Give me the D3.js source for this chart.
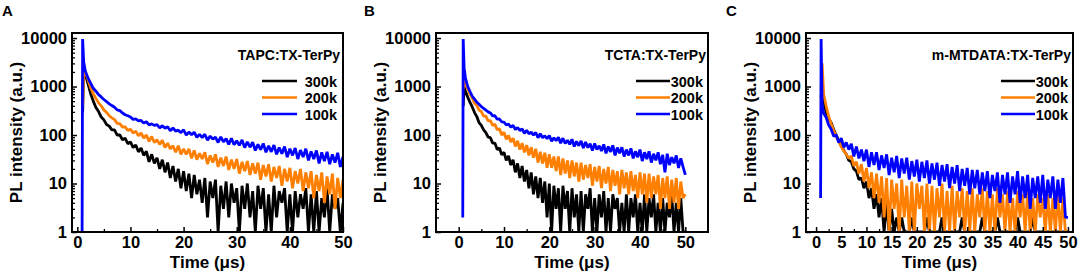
<!DOCTYPE html>
<html>
<head>
<meta charset="utf-8">
<script src="https://cdn.jsdelivr.net/npm/d3@7"></script>
<style>
  body { margin: 0; background: #fff; }
  svg text { font-family: "Liberation Sans", Arial, sans-serif; font-weight: bold; fill: #000; }
</style>
</head>
<body>
<svg id="drawing_region"></svg>
<script>
// sampling times (µs), shared by all traces
const timeUs = [0.9, 1, 1.2, 1.5,
  2, 2.5, 3, 3.5, 4, 4.5, 5, 5.5, 6, 6.5,
  7, 7.5, 8, 8.5, 9, 9.5, 10, 10.5, 11, 11.5,
  12, 12.5, 13, 13.5, 14, 14.5, 15, 15.5, 16, 16.5,
  17, 17.5, 18, 18.5, 19, 19.5, 20, 20.5, 21, 21.5,
  22, 22.5, 23, 23.5, 24, 24.5, 25, 25.5, 26, 26.5,
  27, 27.5, 28, 28.5, 29, 29.5, 30, 30.5, 31, 31.5,
  32, 32.5, 33, 33.5, 34, 34.5, 35, 35.5, 36, 36.5,
  37, 37.5, 38, 38.5, 39, 39.5, 40, 40.5, 41, 41.5,
  42, 42.5, 43, 43.5, 44, 44.5, 45, 45.5, 46, 46.5,
  47, 47.5, 48, 48.5, 49, 49.5, 50];

const seriesLabels = ['300k', '200k', '100k'];
const seriesColors = ['#000000', '#ff8000', '#0000ff'];
const yTickValues = [1, 10, 100, 1000, 10000];

// panel A  TAPC:TX-TerPy
const tapc300k = [300, 300, 2400, 1800,
  1150, 720, 500, 370, 305, 235, 205, 165, 152, 128,
  128, 100, 100, 80, 86, 66, 72, 55, 62, 45,
  54, 38, 46, 28, 40, 26, 34, 20, 31, 17,
  27, 13, 23, 11, 20, 8, 18, 7, 16, 5,
  15, 6, 12, 4, 13, 2, 11, 5, 12, 1,
  9, 3, 11, 2, 10, 4, 8, 0, 9, 3,
  10, 2, 7, 0, 9, 3, 8, 1, 6, 0,
  9, 2, 7, 4, 8, 0, 6, 1, 7, 2,
  6, 3, 8, 0, 6, 1, 7, 0, 5, 2,
  8, 1, 6, 3, 5, 1, 4];
const tapc200k = [400, 400, 2600, 2000,
  1400, 960, 710, 570, 460, 400, 330, 292, 250, 226,
  208, 174, 172, 146, 148, 124, 132, 110, 120, 96,
  110, 86, 100, 74, 93, 70, 80, 64, 78, 55,
  68, 52, 60, 44, 60, 40, 52, 40, 52, 33,
  48, 31, 42, 32, 44, 25, 38, 27, 40, 22,
  34, 23, 36, 19, 31, 20, 32, 16, 28, 18,
  29, 15, 26, 16, 27, 12, 24, 14, 25, 11,
  22, 13, 23, 9, 20, 11, 21, 8, 18, 10,
  20, 7, 17, 8, 18, 5, 15, 7, 17, 4,
  14, 6, 16, 3, 13, 5, 12];
const tapc100k = [1, 9500, 3200, 2100,
  1500, 1180, 920, 800, 680, 610, 540, 490, 440, 405,
  375, 330, 318, 285, 262, 250, 236, 210, 215, 196,
  200, 176, 188, 162, 170, 158, 163, 140, 156, 138,
  148, 122, 140, 120, 126, 112, 128, 100, 115, 101,
  114, 90, 103, 88, 104, 78, 95, 82, 90, 70,
  92, 72, 84, 64, 86, 63, 76, 61, 79, 55,
  72, 56, 71, 48, 64, 50, 67, 44, 60, 45,
  62, 40, 55, 41, 58, 35, 52, 38, 54, 32,
  49, 35, 52, 30, 46, 32, 48, 26, 44, 29,
  45, 25, 40, 27, 43, 22, 36];

// panel B  TCTA:TX-TerPy
const tcta300k = [400, 400, 1000, 800,
  600, 470, 380, 290, 240, 180, 158, 128, 112, 90,
  88, 68, 68, 50, 54, 39, 44, 30, 37, 24,
  31, 17, 26, 13, 23, 11, 19, 8, 17, 6,
  14, 5, 13, 4, 11, 2, 10, 0, 9, 3,
  8, 1, 9, 3, 7, 0, 8, 2, 6, 1,
  7, 0, 6, 3, 8, 1, 5, 0, 6, 2,
  7, 1, 5, 0, 6, 3, 5, 0, 4, 1,
  6, 0, 5, 2, 6, 0, 4, 1, 6, 0,
  5, 2, 6, 0, 4, 1, 5, 0, 4, 2,
  6, 0, 4, 1, 5, 0, 1];
const tcta200k = [900, 900, 1300, 1100,
  900, 690, 580, 450, 405, 325, 305, 245, 244, 196,
  198, 158, 166, 128, 134, 100, 114, 82, 98, 72,
  86, 58, 76, 50, 68, 44, 62, 38, 56, 34,
  52, 27, 45, 26, 43, 21, 40, 21, 36, 18,
  36, 15, 33, 16, 30, 13, 30, 14, 27, 11,
  27, 12, 24, 13, 25, 9, 22, 11, 23, 8,
  20, 10, 22, 7, 19, 9, 18, 6, 19, 8,
  17, 6, 18, 7, 15, 5, 17, 6, 16, 4,
  16, 5, 14, 6, 15, 3, 13, 5, 14, 3,
  12, 4, 13, 3, 11, 5, 6];
const tcta100k = [2, 9500, 2400, 1500,
  1000, 790, 630, 550, 475, 430, 385, 355, 325, 300,
  285, 248, 250, 212, 214, 186, 185, 162, 168, 146,
  158, 130, 142, 124, 133, 108, 125, 106, 114, 100,
  113, 88, 106, 88, 96, 84, 98, 74, 88, 76,
  90, 68, 86, 67, 78, 64, 82, 58, 74, 60,
  76, 54, 72, 55, 66, 48, 67, 50, 60, 47,
  64, 42, 58, 45, 61, 38, 55, 42, 56, 36,
  50, 38, 53, 33, 46, 35, 50, 29, 44, 32,
  46, 27, 41, 30, 44, 25, 39, 17, 41, 24,
  35, 26, 38, 21, 33, 22, 15];

// panel C  m-MTDATA:TX-TerPy
const mmtdata300k = [600, 600, 1200, 500,
  300, 220, 180, 130, 100, 76, 62, 48, 40, 30,
  28, 20, 18, 12, 13, 8, 11, 5, 8, 3,
  6, 2, 5, 1, 4, 0, 3, 1, 2, 0,
  2, 0, 1, 0, 2, 0, 1, 0, 1, 0,
  2, 0, 1, 0, 1, 0, 2, 0, 1, 0,
  1, 0, 1, 0, 2, 0, 1, 0, 1, 0,
  1, 0, 2, 0, 1, 0, 1, 0, 2, 0,
  1, 0, 1, 0, 1, 0, 2, 0, 1, 0,
  1, 0, 2, 0, 1, 0, 1, 0, 1, 0,
  1, 0, 1, 0, 1, 0, 1];
const mmtdata200k = [800, 800, 3000, 700,
  400, 245, 172, 122, 95, 74, 57, 47, 40, 33,
  37, 23, 28, 16, 25, 11, 21, 8, 17, 5,
  16, 4, 14, 2, 13, 1, 12, 3, 10, 0,
  12, 2, 9, 0, 11, 1, 10, 3, 9, 0,
  10, 1, 9, 0, 8, 2, 10, 0, 7, 1,
  9, 0, 7, 2, 8, 0, 7, 1, 8, 0,
  6, 2, 8, 0, 7, 1, 6, 0, 8, 2,
  6, 0, 7, 1, 5, 0, 7, 2, 6, 0,
  7, 1, 5, 0, 6, 2, 5, 0, 6, 1,
  5, 0, 6, 1, 5, 0, 1];
const mmtdata100k = [5, 9500, 420, 280,
  230, 160, 132, 94, 100, 70, 86, 56, 70, 50,
  66, 36, 58, 33, 50, 29, 50, 22, 44, 24,
  44, 19, 38, 21, 40, 15, 34, 17, 37, 13,
  33, 16, 34, 12, 29, 14, 31, 11, 28, 13,
  30, 10, 26, 12, 27, 9, 24, 11, 25, 8,
  22, 10, 24, 7, 20, 9, 21, 6, 19, 8,
  19, 6, 17, 7, 18, 5, 15, 7, 17, 4,
  15, 6, 17, 4, 14, 6, 18, 4, 14, 5,
  15, 3, 13, 5, 14, 4, 15, 3, 12, 5,
  14, 3, 12, 4, 13, 2, 2];

const svg = d3.select('#drawing_region')
    .attr('width', 1084)
    .attr('height', 276);

class DecayChart {

    constructor( config, series ) {
        this.config = config;
        this.series = series;
        this.init();
    }

    init() {
        let self = this;
        const c = self.config;

        self.xscale = d3.scaleLinear()
            .domain( c.xDomain )
            .range( [c.left, c.right] );

        self.yscale = d3.scaleLog()
            .domain( [1, 12700] )
            .range( [c.bottom, c.top] );

        self.chart = svg.append('g');

        self.chart.append('clipPath')
            .attr('id', c.id + '_clip')
            .append('rect')
            .attr('x', c.left).attr('y', c.top)
            .attr('width', c.right - c.left)
            .attr('height', c.bottom - c.top);
    }

    render() {
        let self = this;
        const c = self.config;

        const line = d3.line()
            .x( d => self.xscale(d[0]) )
            .y( d => self.yscale(Math.max(d[1], 1)) );

        self.chart.append('g')
            .attr('clip-path', `url(#${c.id}_clip)`)
            .selectAll('path')
            .data(self.series)
            .join('path')
            .attr('fill', 'none')
            .attr('stroke', (d, i) => seriesColors[i])
            .attr('stroke-width', 2.8)
            .attr('stroke-linejoin', 'bevel')
            .attr('d', d => line(timeUs.map((t, i) => [t, d[i]]).filter(p => p[1] !== undefined)));

        // y axis, major + minor ticks pointing inward
        const yminor = [];
        yTickValues.slice(0, -1).forEach( v => { for (let k = 2; k <= 9; k++) yminor.push(v * k); });

        self.chart.append('g')
            .attr('transform', `translate(${c.left},0)`)
            .call( d3.axisLeft(self.yscale).tickValues(yminor).tickSize(-3).tickFormat('') )
            .call( g => g.select('.domain').remove() )
            .selectAll('line').attr('stroke-width', 1.3);

        self.chart.append('g')
            .attr('transform', `translate(${c.left},0)`)
            .call( d3.axisLeft(self.yscale).tickValues(yTickValues).tickSize(-5).tickPadding(5).tickFormat(d3.format('d')) )
            .call( g => g.select('.domain').remove() )
            .call( g => g.selectAll('line').attr('stroke-width', 1.5) )
            .selectAll('text')
            .style('font-size', '16.5px');

        // x axis
        self.chart.append('g')
            .attr('transform', `translate(0,${c.bottom})`)
            .call( d3.axisBottom(self.xscale).tickValues(c.xMinor).tickSize(-3).tickFormat('') )
            .call( g => g.select('.domain').remove() )
            .selectAll('line').attr('stroke-width', 1.3);

        self.chart.append('g')
            .attr('transform', `translate(0,${c.bottom})`)
            .call( d3.axisBottom(self.xscale).tickValues(c.xTicks).tickSize(-5).tickPadding(4) )
            .call( g => g.select('.domain').remove() )
            .call( g => g.selectAll('line').attr('stroke-width', 1.5) )
            .selectAll('text')
            .style('font-size', '16.5px');

        // frame
        self.chart.append('rect')
            .attr('x', c.left).attr('y', c.top)
            .attr('width', c.right - c.left)
            .attr('height', c.bottom - c.top)
            .attr('fill', 'none')
            .attr('stroke', '#000')
            .attr('stroke-width', 2);

        // axis titles
        self.chart.append('text')
            .attr('x', (c.left + c.right) / 2)
            .attr('y', 268)
            .attr('text-anchor', 'middle')
            .style('font-size', '17px')
            .text('Time (μs)');

        self.chart.append('text')
            .attr('transform', `translate(${c.left - 50},${(c.top + c.bottom) / 2}) rotate(-90)`)
            .attr('text-anchor', 'middle')
            .style('font-size', '17px')
            .text('PL intensity (a.u.)');

        // panel letter
        self.chart.append('text')
            .attr('x', c.letterX)
            .attr('y', 16)
            .style('font-size', '15px')
            .text(c.letter);

        // legend
        const lg = self.chart.append('g');
        lg.append('text')
            .attr('x', c.legendRight + 3)
            .attr('y', 60)
            .attr('text-anchor', 'end')
            .style('font-size', '14px')
            .text(c.title);

        seriesLabels.forEach( (lab, i) => {
            const yy = 81 + i * 16.5;
            lg.append('line')
                .attr('x1', c.legendLine[0]).attr('x2', c.legendLine[1])
                .attr('y1', yy).attr('y2', yy)
                .attr('stroke', seriesColors[i])
                .attr('stroke-width', 2.5);
            lg.append('text')
                .attr('x', c.legendRight)
                .attr('y', yy + 5.5)
                .attr('text-anchor', 'end')
                .style('font-size', '14.5px')
                .text(lab);
        });
    }
}

const panels = [
    { id: 'A', letter: 'A', letterX: 2, title: 'TAPC:TX-TerPy',
      left: 72, right: 343, top: 33, bottom: 232, xDomain: [-1, 50],
      xTicks: [0, 10, 20, 30, 40, 50], xMinor: [5, 15, 25, 35, 45],
      legendRight: 337, legendLine: [262, 297],
      series: [tapc300k, tapc200k, tapc100k] },
    { id: 'B', letter: 'B', letterX: 364, title: 'TCTA:TX-TerPy',
      left: 436, right: 708, top: 33, bottom: 232, xDomain: [-5, 55],
      xTicks: [0, 10, 20, 30, 40, 50], xMinor: [5, 15, 25, 35, 45],
      legendRight: 703, legendLine: [636, 670],
      series: [tcta300k, tcta200k, tcta100k] },
    { id: 'C', letter: 'C', letterX: 726, title: 'm-MTDATA:TX-TerPy',
      left: 806, right: 1073, top: 33, bottom: 232, xDomain: [-2, 51],
      xTicks: [0, 5, 10, 15, 20, 25, 30, 35, 40, 45, 50],
      xMinor: [2.5, 7.5, 12.5, 17.5, 22.5, 27.5, 32.5, 37.5, 42.5, 47.5],
      legendRight: 1068, legendLine: [1001, 1035],
      series: [mmtdata300k, mmtdata200k, mmtdata100k] }
];

panels.forEach( p => {
    const chart = new DecayChart( p, p.series );
    chart.render();
});
</script>
</body>
</html>
